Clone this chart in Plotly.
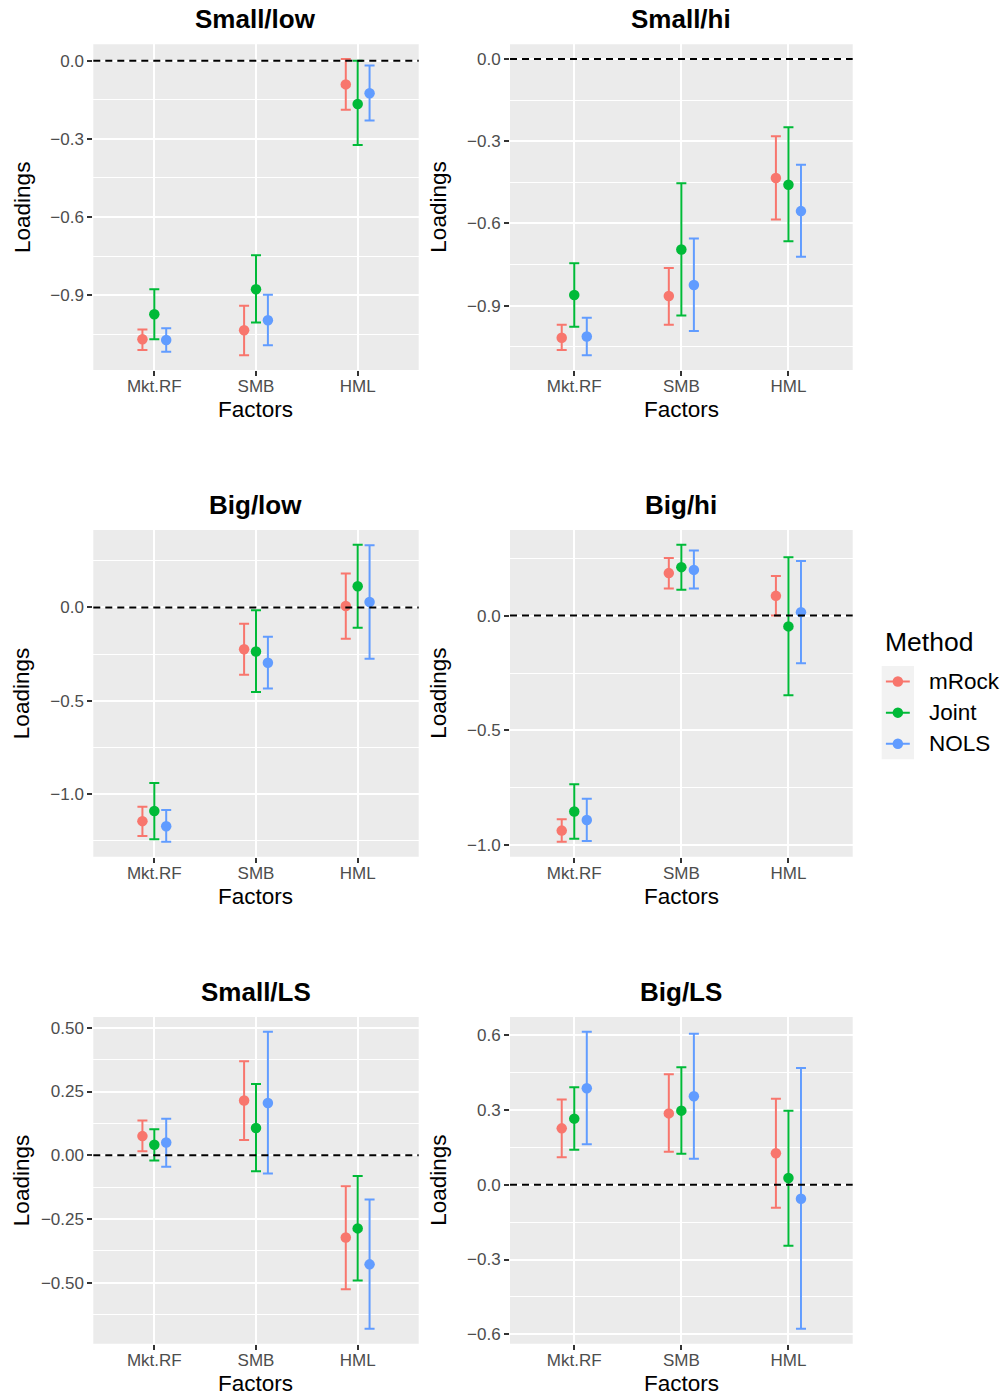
import numpy as np
import plotly.graph_objects as go

# ---- data -------------------------------------------------------------
panels = ["Small/low", "Small/hi", "Big/low", "Big/hi", "Small/LS", "Big/LS"]
factors = ["Mkt.RF", "SMB", "HML"]
methods = ["mRock", "Joint", "NOLS"]
colors = ["#F8766D", "#00BA38", "#619CFF"]

# one row per panel, one value per factor
mrock_est = [[-1.069, -1.034, -0.091], [-1.017, -0.865, -0.434], [-1.145, -0.224, 0.007],
             [-0.936, 0.185, 0.086], [0.075, 0.215, -0.323], [0.226, 0.286, 0.126]]
mrock_lo = [[-1.110, -1.130, -0.188], [-1.062, -0.970, -0.586], [-1.225, -0.361, -0.168],
            [-0.985, 0.118, 0.000], [0.016, 0.060, -0.526], [0.110, 0.132, -0.092]]
mrock_hi = [[-1.031, -0.940, 0.006], [-0.970, -0.763, -0.282], [-1.068, -0.088, 0.181],
            [-0.887, 0.251, 0.172], [0.136, 0.369, -0.122], [0.342, 0.443, 0.345]]

joint_est = [[-0.973, -0.877, -0.166], [-0.861, -0.695, -0.459], [-1.091, -0.236, 0.113],
             [-0.853, 0.211, -0.047], [0.041, 0.107, -0.287], [0.265, 0.297, 0.027]]
joint_lo = [[-1.069, -1.005, -0.324], [-0.977, -0.936, -0.665], [-1.242, -0.453, -0.109],
            [-0.971, 0.113, -0.347], [-0.021, -0.063, -0.491], [0.140, 0.124, -0.245]]
joint_hi = [[-0.877, -0.747, 0.000], [-0.745, -0.453, -0.249], [-0.941, -0.016, 0.335],
            [-0.734, 0.308, 0.254], [0.102, 0.279, -0.081], [0.391, 0.471, 0.297]]

nols_est = [[-1.072, -0.996, -0.125], [-1.013, -0.825, -0.555], [-1.172, -0.297, 0.029],
            [-0.890, 0.199, 0.015], [0.050, 0.205, -0.428], [0.387, 0.355, -0.056]]
nols_lo = [[-1.117, -1.092, -0.230], [-1.081, -0.993, -0.722], [-1.256, -0.435, -0.275],
           [-0.981, 0.118, -0.208], [-0.045, -0.072, -0.681], [0.162, 0.104, -0.578]]
nols_hi = [[-1.027, -0.898, -0.019], [-0.944, -0.655, -0.386], [-1.086, -0.157, 0.333],
           [-0.797, 0.283, 0.238], [0.143, 0.484, -0.174], [0.613, 0.605, 0.468]]

# y-axis break spacing and label format per panel
y_dtick = [0.3, 0.3, 0.5, 0.5, 0.25, 0.3]
y_format = [".1f", ".1f", ".1f", ".1f", ".2f", ".1f"]

# ---- layout geometry (pixels) ----------------------------------------
W, H = 1006, 1397
col_x = [(93.3, 418.7), (510.0, 852.7)]
row_y = [(44.3, 370.0), (530.0, 856.7), (1017.0, 1343.7)]
dodge = [-0.117, 0.0, 0.117]

FONT = "Liberation Sans, Arial, Helvetica, sans-serif"


def px(x):
    return x / W


def py(y):
    return 1 - y / H


est_all = [mrock_est, joint_est, nols_est]
lo_all = [mrock_lo, joint_lo, nols_lo]
hi_all = [mrock_hi, joint_hi, nols_hi]

fig = go.Figure()
layout = dict(
    width=W, height=H,
    margin=dict(l=0, r=0, t=0, b=0),
    paper_bgcolor="white", plot_bgcolor="white",
    showlegend=False,
    font=dict(family=FONT),
)
shapes = []
annotations = []

for p, name in enumerate(panels):
    r, c = divmod(p, 2)
    sfx = "" if p == 0 else str(p + 1)
    xa, ya = f"x{sfx}", f"y{sfx}"
    x0, x1 = col_x[c]
    y0, y1 = row_y[r]

    # markers with error bars, dodged around each factor
    for m, meth in enumerate(methods):
        est = np.array(est_all[m][p])
        lo = np.array(lo_all[m][p])
        hi = np.array(hi_all[m][p])
        xs = np.arange(1, len(factors) + 1) + dodge[m]
        fig.add_trace(go.Scatter(
            x=xs, y=est, mode="markers", name=meth,
            marker=dict(color=colors[m], size=10.5, line=dict(width=0)),
            error_y=dict(type="data", symmetric=False, array=hi - est,
                         arrayminus=est - lo, color=colors[m],
                         thickness=2, width=5),
            xaxis=xa, yaxis=ya, hoverinfo="skip",
        ))

    # ggplot-like expansion: 5% of the data span (including the zero line)
    lows = [min(lo_all[m][p]) for m in range(3)] + [0.0]
    highs = [max(hi_all[m][p]) for m in range(3)] + [0.0]
    lo_v, hi_v = min(lows), max(highs)
    span = hi_v - lo_v
    yr = [lo_v - 0.05 * span, hi_v + 0.05 * span]

    layout[f"xaxis{sfx}"] = dict(
        domain=[px(x0), px(x1)], anchor=ya, range=[0.4, 3.6],
        tickvals=[1, 2, 3], ticktext=factors,
        showgrid=True, gridcolor="white", gridwidth=1.8,
        zeroline=False, showline=False,
        ticks="outside", ticklen=5, tickwidth=1.5, tickcolor="#333333",
        ticklabelstandoff=-4,
        tickfont=dict(size=17, color="#4D4D4D", family=FONT),
    )
    layout[f"yaxis{sfx}"] = dict(
        domain=[py(y1), py(y0)], anchor=xa, range=yr,
        dtick=y_dtick[p], tick0=0, tickformat=y_format[p],
        showgrid=True, gridcolor="white", gridwidth=1.8,
        minor=dict(dtick=y_dtick[p] / 2, tick0=0, showgrid=True,
                   gridcolor="white", gridwidth=0.9, ticks=""),
        zeroline=False, showline=False,
        ticks="outside", ticklen=5, tickwidth=1.5, tickcolor="#333333",
        tickfont=dict(size=17, color="#4D4D4D", family=FONT),
    )

    # panel background
    shapes.append(dict(type="rect", xref=f"{xa} domain", yref=f"{ya} domain",
                       x0=0, x1=1, y0=0, y1=1, fillcolor="#EBEBEB",
                       line=dict(width=0), layer="below"))
    # dashed reference line at zero
    shapes.append(dict(type="line", xref=f"{xa} domain", yref=ya,
                       x0=0, x1=1, y0=0, y1=0,
                       line=dict(color="black", width=2, dash="7px,5px"),
                       layer="above"))

    cx = (x0 + x1) / 2
    annotations.append(dict(text=f"<b>{name}</b>", x=px(cx), y=py(y0 - 25),
                            xref="paper", yref="paper", showarrow=False,
                            xanchor="center", yanchor="middle",
                            font=dict(size=26, color="black", family=FONT)))
    annotations.append(dict(text="Factors", x=px(cx), y=py(y1 + 40),
                            xref="paper", yref="paper", showarrow=False,
                            xanchor="center", yanchor="middle",
                            font=dict(size=22.5, color="black", family=FONT)))
    annotations.append(dict(text="Loadings", x=px(x0 - 71.5), y=py((y0 + y1) / 2),
                            xref="paper", yref="paper", showarrow=False,
                            textangle=-90, xanchor="center", yanchor="middle",
                            font=dict(size=22.5, color="black", family=FONT)))

# ---- legend (drawn on its own small axis) ------------------------------
lg_x0, lg_x1 = 881.7, 914.0
lg_y0, lg_y1 = 666.0, 759.3
layout["xaxis7"] = dict(domain=[px(lg_x0), px(lg_x1)], anchor="y7", range=[0, 1],
                        visible=False, fixedrange=True)
layout["yaxis7"] = dict(domain=[py(lg_y1), py(lg_y0)], anchor="x7", range=[3.5, 0.5],
                        visible=False, fixedrange=True)
shapes.append(dict(type="rect", xref="x7 domain", yref="y7 domain",
                   x0=0, x1=1, y0=0, y1=1, fillcolor="#F2F2F2",
                   line=dict(width=0), layer="below"))
for m, meth in enumerate(methods):
    k = m + 1
    fig.add_trace(go.Scatter(x=[0.13, 0.87], y=[k, k], mode="lines",
                             line=dict(color=colors[m], width=2),
                             xaxis="x7", yaxis="y7", hoverinfo="skip"))
    fig.add_trace(go.Scatter(x=[0.5], y=[k], mode="markers",
                             marker=dict(color=colors[m], size=10.5),
                             xaxis="x7", yaxis="y7", hoverinfo="skip"))
    annotations.append(dict(text=meth, x=px(926.5), xref="paper", y=k, yref="y7",
                            showarrow=False, xanchor="left", yanchor="middle",
                            font=dict(size=22.5, color="black", family=FONT)))
annotations.append(dict(text="Method", x=px(882.5), y=py(641.5),
                        xref="paper", yref="paper", showarrow=False,
                        xanchor="left", yanchor="middle",
                        font=dict(size=26.5, color="black", family=FONT)))

layout["shapes"] = shapes
layout["annotations"] = annotations
fig.update_layout(**layout)

fig.write_html("out.html")
